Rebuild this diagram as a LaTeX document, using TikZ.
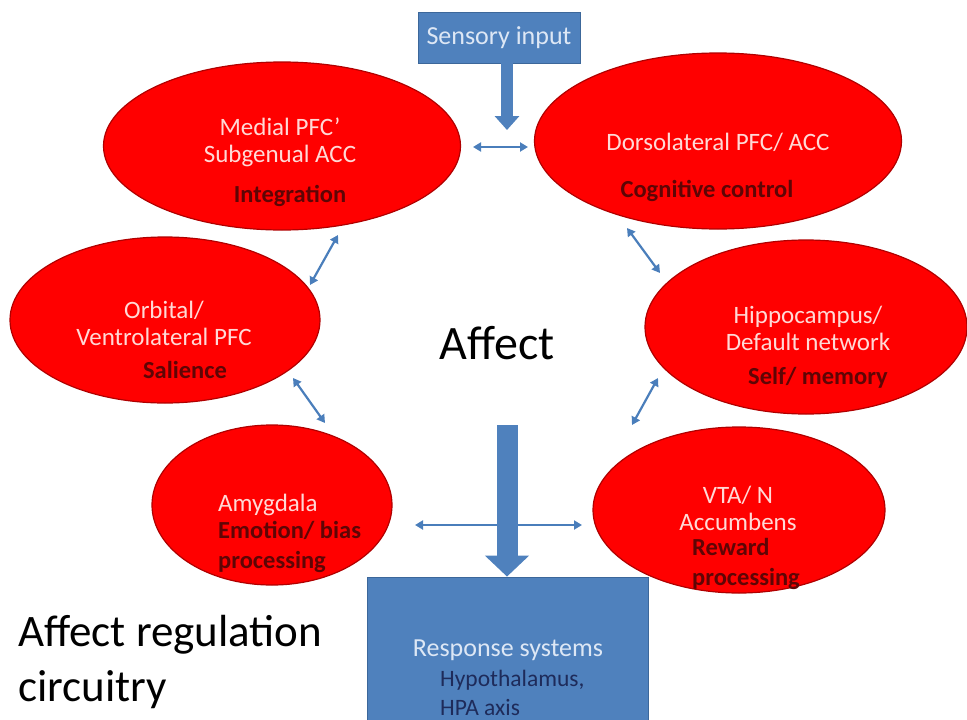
\documentclass[tikz,border=0pt]{standalone}
\usepackage{fontspec}
\setmainfont{Carlito}
\usetikzlibrary{shapes.geometric,arrows.meta}
\definecolor{lobe}{HTML}{FF0000}
\definecolor{lobeedge}{HTML}{B00000}
\definecolor{paletext}{HTML}{FFD9D6}
\definecolor{boxtext}{HTML}{DDE7F5}
\definecolor{deepred}{HTML}{5E0505}
\definecolor{boxblue}{HTML}{4F81BD}
\definecolor{boxedge}{HTML}{3C679A}
\definecolor{linkblue}{HTML}{4A7EBB}
\definecolor{navytext}{HTML}{1E2B5A}
\begin{document}
\begin{tikzpicture}[x=1pt,y=-1pt,
  region/.style={ellipse, draw=lobeedge, fill=lobe, line width=1.2pt, inner sep=0pt},
  lbl/.style={text=paletext, font=\fontsize{25}{27}\selectfont, align=center, inner sep=0pt},
  role/.style={text=deepred, font=\fontsize{24.5}{30}\selectfont\bfseries, inner sep=0pt, align=left},
  bluebox/.style={draw=boxedge, fill=boxblue, line width=0.8pt, inner sep=0pt},
  link/.style={draw=linkblue, line width=2.2pt,
    {Triangle[width=9pt,length=8pt]}-{Triangle[width=9pt,length=8pt]}},
  flow/.style={draw=boxblue},
  headline/.style={text=black, inner sep=0pt}]
\useasboundingbox (0,0) rectangle (967,720);

% brain regions
\node[region, minimum width=357pt, minimum height=168pt] (medial) at (282,146) {};
\node[region, minimum width=367pt, minimum height=176pt] (dlpfc) at (718,141) {};
\node[region, minimum width=310pt, minimum height=166pt] (orbital) at (165,320) {};
\node[region, minimum width=322pt, minimum height=174pt] (hippo) at (806,327) {};
\node[region, minimum width=240pt, minimum height=160pt] (amyg) at (272,505) {};
\node[region, minimum width=292pt, minimum height=166pt] (vta) at (739,510) {};

% region names
\node[lbl] (medialname) at (280,142) {Medial PFC’\\Subgenual ACC};
\node[lbl] (dlpfcname) at (718,142) {Dorsolateral PFC/ ACC};
\node[lbl] (orbitalname) at (164,323) {Orbital/\\Ventrolateral PFC};
\node[lbl] (hipponame) at (808,328) {Hippocampus/\\Default network};
\node[lbl, anchor=west] (amygname) at (218,505) {Amygdala};
\node[lbl] (vtaname) at (738,508) {VTA/ N\\Accumbens};

% region roles
\node[role] (medialrole) at (290,196) {Integration};
\node[role] (dlpfcrole) at (707,191) {Cognitive control};
\node[role] (orbitalrole) at (185,370) {Salience};
\node[role] (hipporole) at (818,378) {Self/ memory};
\node[role, anchor=west] (amygrole) at (218,547) {Emotion/ bias\\processing};
\node[role, anchor=west] (vtarole) at (692,564) {Reward\\processing};

% input and output systems
\node[bluebox, minimum width=162pt, minimum height=51pt, text=boxtext,
  font=\fontsize{26}{28}\selectfont] (sensory) at (499,37.5) {Sensory input};
\node[bluebox, minimum width=281pt, minimum height=146pt] (response) at (507.5,650) {};
\node[lbl, text=boxtext, font=\fontsize{26}{28}\selectfont] (respname) at (508,650) {Response systems};
\node[text=navytext, font=\fontsize{23.5}{29}\selectfont, anchor=west,
  align=left, inner sep=0pt] (resplist) at (440,693) {Hypothalamus,\\HPA axis};

% titles
\node[headline, font=\fontsize{48}{50}\selectfont] (affect) at (497,343) {Affect};
\node[headline, anchor=west, align=left, font=\fontsize{45}{55}\selectfont]
  (title) at (18,662) {Affect regulation\\circuitry};

% reciprocal links between regions
\coordinate (l1a) at (473,147); \coordinate (l1b) at (528,147);
\coordinate (l2a) at (338,235); \coordinate (l2b) at (310,285);
\coordinate (l3a) at (293,378); \coordinate (l3b) at (325,423);
\coordinate (l4a) at (627,228); \coordinate (l4b) at (660,273);
\coordinate (l5a) at (658,378); \coordinate (l5b) at (632,425);
\coordinate (l6a) at (415,525); \coordinate (l6b) at (582,525);
\draw[link] (l1a) -- (l1b);
\draw[link] (l2a) -- (l2b);
\draw[link] (l3a) -- (l3b);
\draw[link] (l4a) -- (l4b);
\draw[link] (l5a) -- (l5b);
\draw[link] (l6a) -- (l6b);

% block arrows
\coordinate (sensetip) at (507,130);
\draw[flow, line width=12pt, -{Triangle[width=24pt,length=14pt]}]
  (sensory.south -| sensetip) -- (sensetip);
\coordinate (flowtop) at (507,425);
\draw[flow, line width=21pt, -{Triangle[width=43pt,length=21pt]}]
  (flowtop) -- (response.north -| flowtop);
\end{tikzpicture}
\end{document}
